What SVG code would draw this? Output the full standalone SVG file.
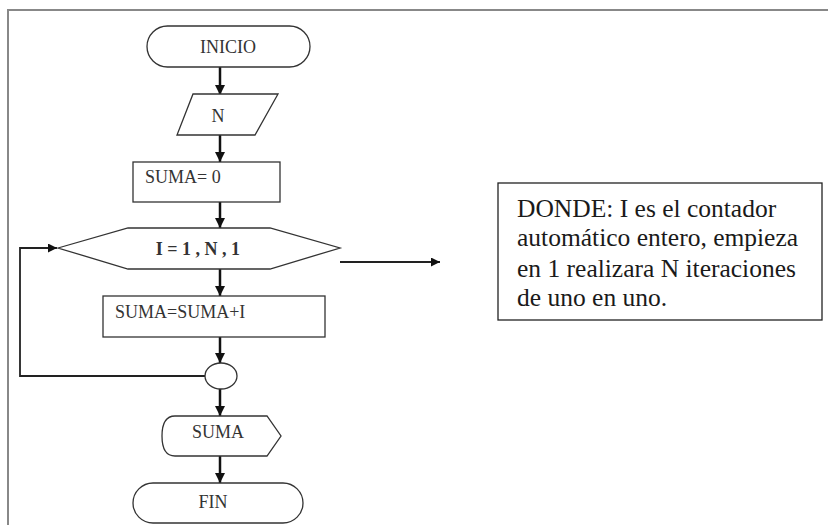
<svg xmlns="http://www.w3.org/2000/svg" width="828" height="525" viewBox="0 0 828 525">
<style>
.shape{fill:#fff;stroke:#333;stroke-width:1.3}
.lbl{font-size:18px;fill:#333}
.conn{stroke:#111;stroke-width:2.5;fill:none}
.thin{stroke:#222;stroke-width:1.8;fill:none}
.desc{font-family:"Liberation Serif","DejaVu Serif",serif;font-size:25.5px;fill:#1a1a1a}
</style>
<defs>
<marker id="ah" viewBox="0 0 10 10" refX="10" refY="5" markerWidth="4" markerHeight="4" orient="auto" markerUnits="strokeWidth">
<path d="M0,0 L10,5 L0,10 z" fill="#111"/>
</marker>
<marker id="ah2" viewBox="0 0 10 10" refX="10" refY="5" markerWidth="5.5" markerHeight="5" orient="auto" markerUnits="strokeWidth">
<path d="M0,0 L10,5 L0,10 z" fill="#111"/>
</marker>
</defs>
<rect width="828" height="525" fill="#fff"/>
<g id="frame">
<path d="M8,525 L8,10 L828,10" fill="none" stroke="#888" stroke-width="2"/>
</g>
<g id="connectors">
<line class="conn" x1="220" y1="67" x2="220" y2="95" marker-end="url(#ah)"/>
<line class="conn" x1="220" y1="135" x2="220" y2="162" marker-end="url(#ah)"/>
<line class="conn" x1="220" y1="202" x2="220" y2="228" marker-end="url(#ah)"/>
<line class="conn" x1="220" y1="269" x2="220" y2="296" marker-end="url(#ah)"/>
<line class="conn" x1="220" y1="337" x2="220" y2="363" marker-end="url(#ah)"/>
<line class="conn" x1="220" y1="389" x2="220" y2="416" marker-end="url(#ah)"/>
<line class="conn" x1="220" y1="456" x2="220" y2="483" marker-end="url(#ah)"/>
<path class="thin" d="M205,376 L20,376 L20,248 L57,248" marker-end="url(#ah2)"/>
<line class="thin" x1="340" y1="262" x2="440" y2="262" marker-end="url(#ah2)"/>
</g>
<g font-family="Liberation Serif, DejaVu Serif, serif">
<g id="inicio">
<rect class="shape" x="147" y="26" width="163" height="41" rx="20.5" ry="20.5"/>
<text class="lbl" x="228" y="53" text-anchor="middle">INICIO</text>
</g>
<g id="leer-n">
<polygon class="shape" points="193,94 278,94 255,135 177,135"/>
<text class="lbl" x="218" y="122" text-anchor="middle">N</text>
</g>
<g id="suma-cero">
<rect class="shape" x="133" y="162" width="147" height="40"/>
<text class="lbl" x="145" y="183">SUMA= 0</text>
</g>
<g id="ciclo">
<polygon class="shape" points="58,248 128,228 270,228 340,248 270,269 128,269"/>
<text class="lbl" x="198" y="255" text-anchor="middle" font-weight="bold">I = 1 , N , 1</text>
</g>
<g id="suma-acum">
<rect class="shape" x="103" y="296" width="222" height="41"/>
<text class="lbl" x="115" y="318" font-size="19">SUMA=SUMA+I</text>
</g>
<g id="conector">
<ellipse class="shape" cx="221" cy="376" rx="16" ry="13"/>
</g>
<g id="mostrar-suma">
<path class="shape" d="M175,416 L267,416 L281,436 L267,456 L175,456 Q162,456 162,436 Q162,416 175,416 z"/>
<text class="lbl" x="218" y="438" text-anchor="middle" font-size="19">SUMA</text>
</g>
<g id="fin">
<rect class="shape" x="133" y="483" width="170" height="40" rx="20" ry="20"/>
<text class="lbl" x="213" y="508" text-anchor="middle">FIN</text>
</g>
</g>
<g id="nota">
<rect x="498" y="183" width="324" height="137" fill="#fff" stroke="#222" stroke-width="1.3"/>
<text class="desc" x="517" y="217">DONDE: I es el contador</text>
<text class="desc" x="517" y="246">automático entero, empieza</text>
<text class="desc" x="517" y="277">en 1 realizara N iteraciones</text>
<text class="desc" x="517" y="306">de uno en uno.</text>
</g>
</svg>
